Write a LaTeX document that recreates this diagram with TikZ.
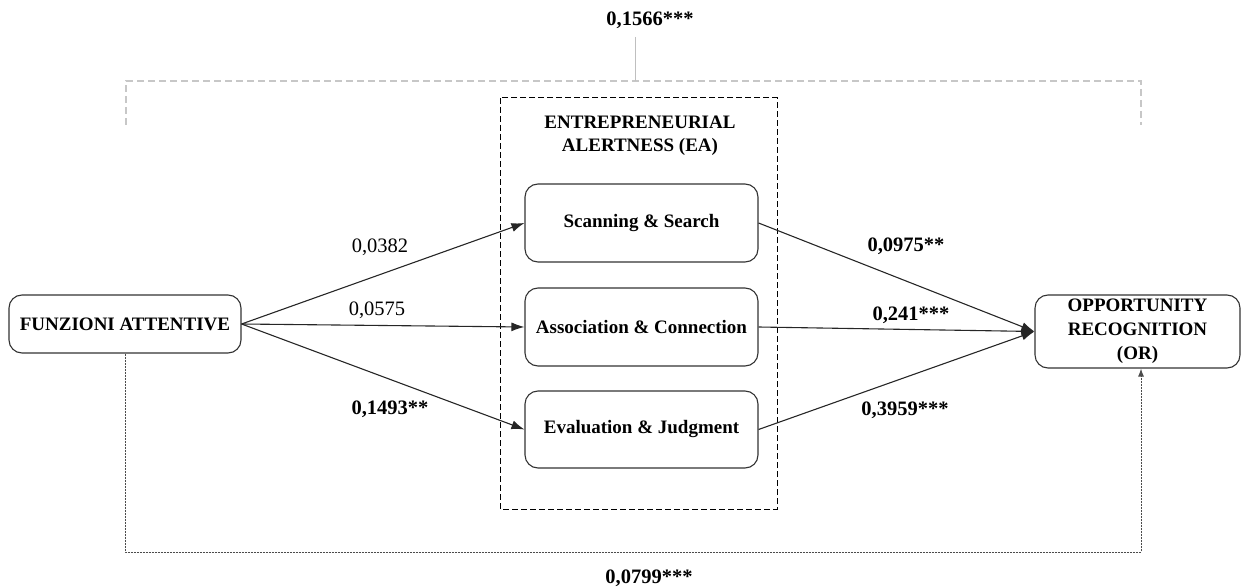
\documentclass[tikz,border=0pt]{standalone}
\usepackage{fontspec}
\setmainfont{Liberation Serif}
\usetikzlibrary{arrows.meta}
\begin{document}
\begin{tikzpicture}[x=1pt,y=-1pt,
  box/.style={draw=black!80, line width=1.1pt, rounded corners=13pt,
    font=\fontsize{19}{24}\selectfont\bfseries, align=center, inner sep=0pt},
  link/.style={draw=black!85, line width=1.1pt, -{Latex[length=13pt,width=9pt]}},
  coef/.style={font=\fontsize{20.5}{24}\selectfont, inner sep=0pt},
  sig/.style={font=\fontsize{20.5}{24}\selectfont\bfseries, inner sep=0pt},
  bracket/.style={draw=black!22, line width=1.6pt, dash pattern=on 7pt off 4pt},
  direct/.style={draw=black!70, line width=1pt, dash pattern=on 2pt off 1pt,
    -{Latex[length=8pt,width=6pt]}}
]
\useasboundingbox (0,0) rectangle (1242,588);

% mediator group
\draw[black, line width=1pt, dash pattern=on 6pt off 3pt] (500,98) rectangle (777,509);
\node[font=\fontsize{19}{23}\selectfont\bfseries, align=center, inner sep=0pt] (ea)
  at (640,135.5) {ENTREPRENEURIAL\\ALERTNESS (EA)};

% constructs
\node[box, minimum width=232pt, minimum height=58pt] (fa) at (125,324) {FUNZIONI ATTENTIVE};
\node[box, minimum width=233pt, minimum height=78pt] (scan) at (641.5,223) {Scanning \& Search};
\node[box, minimum width=233pt, minimum height=78pt] (assoc) at (641.5,327) {Association \& Connection};
\node[box, minimum width=233pt, minimum height=77pt] (eval) at (641.5,429.5) {Evaluation \& Judgment};
\node[box, minimum width=205pt, minimum height=73pt] (or) at (1137.5,331.5)
  {OPPORTUNITY\\RECOGNITION\\(OR)};

% paths a
\draw[link] (fa.east) -- (scan.west);
\draw[link] (fa.east) -- (assoc.west);
\draw[link] (fa.east) -- (eval.west);

% paths b
\draw[link] (scan.east) -- (or.west);
\draw[link] (assoc.east) -- (or.west);
\draw[link] (eval.east) -- (or.west);

% coefficients
\node[coef] (ca1) at (380,247) {0,0382};
\node[coef] (ca2) at (377,310) {0,0575};
\node[sig] (ca3) at (390,409) {0,1493**};
\node[sig] (cb1) at (906,246) {0,0975**};
\node[sig] (cb2) at (911,315) {0,241***};
\node[sig] (cb3) at (905,410) {0,3959***};

% total effect bracket
\coordinate (tl) at (126,125);
\coordinate (tlc) at (126,81);
\coordinate (trc) at (1141,81);
\coordinate (tr) at (1141,125);
\coordinate (tmid) at (635,81);
\coordinate (ttop) at (635,37);
\draw[bracket] (tl) -- (tlc) -- (trc) -- (tr);
\draw[draw=black!25, line width=1pt] (ttop) -- (tmid);
\node[sig] (ctot) at (650,20) {0,1566***};

% direct effect
\coordinate (bl) at (125,552);
\coordinate (br) at (1141,552);
\draw[direct] (fa.south) -- (bl) -- (br) -- (br |- or.south);
\node[sig] (cdir) at (649,578) {0,0799***};
\end{tikzpicture}
\end{document}
